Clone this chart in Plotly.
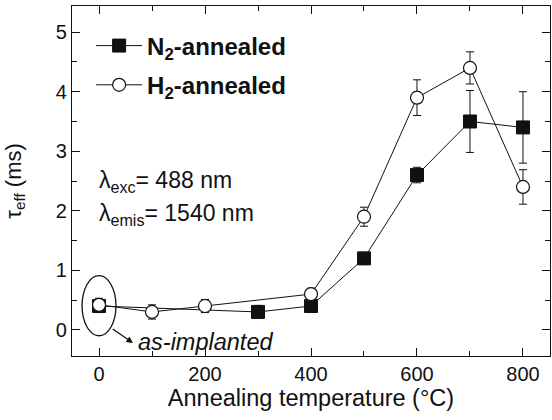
import plotly.graph_objects as go

# Data
temp_n2 = [0, 300, 400, 500, 600, 700, 800]
tau_n2 = [0.40, 0.30, 0.40, 1.20, 2.60, 3.50, 3.40]
err_n2 = [0.11, 0.11, 0.10, 0.10, 0.13, 0.52, 0.60]

temp_h2 = [0, 100, 200, 400, 500, 600, 700, 800]
tau_h2 = [0.42, 0.30, 0.40, 0.60, 1.90, 3.90, 4.40, 2.40]
err_h2 = [0.11, 0.12, 0.11, 0.10, 0.16, 0.30, 0.27, 0.29]

x_ticks = [0, 200, 400, 600, 800]
y_ticks = [0, 1, 2, 3, 4, 5]

FONT = "Liberation Sans, Arial, sans-serif"
INK = "#111111"

fig = go.Figure()

fig.add_trace(go.Scatter(
    x=temp_n2, y=tau_n2, mode="lines+markers",
    name="<b>N<sub>2</sub>-annealed</b>", legendgroup="a",
    line=dict(color=INK, width=1),
    marker=dict(symbol="square", size=13, color=INK, line=dict(color=INK, width=1)),
    error_y=dict(type="data", array=err_n2, color=INK, thickness=1, width=4),
))
fig.add_trace(go.Scatter(
    x=temp_h2, y=tau_h2, mode="lines+markers",
    name="<b>H<sub>2</sub>-annealed</b>", legendgroup="b",
    line=dict(color=INK, width=1),
    marker=dict(symbol="circle", size=13, color="white", line=dict(color=INK, width=1.2)),
    error_y=dict(type="data", array=err_h2, color=INK, thickness=1, width=4),
))

# ellipse around as-implanted point
fig.add_shape(type="circle", xref="x", yref="y", x0=-32, x1=32, y0=-0.1, y1=0.91,
              line=dict(color=INK, width=1.3))

fig.add_annotation(x=64, y=-0.22, ax=23, ay=0.03, axref="x", ayref="y", xref="x", yref="y",
                   text="", showarrow=True, arrowhead=2, arrowsize=1, arrowwidth=1.3,
                   arrowcolor=INK)
fig.add_annotation(x=70, y=-0.2, xref="x", yref="y", xanchor="left", yanchor="middle",
                   text="<i>as-implanted</i>", showarrow=False,
                   font=dict(family=FONT, size=23.5, color=INK))
fig.add_annotation(x=-4, y=2.5, xref="x", yref="y", xanchor="left", yanchor="middle",
                   text="λ<sub>exc</sub>= 488 nm", showarrow=False,
                   font=dict(family=FONT, size=23, color=INK))
fig.add_annotation(x=-4, y=1.93, xref="x", yref="y", xanchor="left", yanchor="middle",
                   text="λ<sub>emis</sub>= 1540 nm", showarrow=False,
                   font=dict(family=FONT, size=23, color=INK))

axis_common = dict(
    showline=True, linecolor=INK, linewidth=1.3, mirror="ticks",
    ticks="inside", ticklen=8, tickwidth=1.2, tickcolor=INK,
    showgrid=False, zeroline=False, automargin=False,
    tickfont=dict(family=FONT, size=20, color=INK),
)

fig.update_xaxes(
    range=[-51, 851], tickvals=x_ticks,
    minor=dict(dtick=100, tick0=0, ticks="inside", ticklen=5, tickwidth=1.2, tickcolor=INK, showgrid=False),
    title=dict(text="Annealing temperature (°C)", font=dict(family=FONT, size=23.5, color=INK), standoff=4),
    **axis_common,
)
fig.update_yaxes(
    range=[-0.44, 5.44], tickvals=y_ticks,
    minor=dict(dtick=0.5, tick0=0, ticks="inside", ticklen=5, tickwidth=1.2, tickcolor=INK, showgrid=False),
    title=dict(text="τ<sub>eff</sub> (ms)", font=dict(family=FONT, size=22, color=INK), standoff=28),
    **axis_common,
)

fig.update_layout(
    width=552, height=420,
    margin=dict(l=72, r=2, t=6, b=64),
    paper_bgcolor="white", plot_bgcolor="white",
    font=dict(family=FONT, color=INK),
    showlegend=True,
    legend=dict(x=0.04, y=0.95, xanchor="left", yanchor="top",
                bgcolor="rgba(0,0,0,0)", borderwidth=0,
                font=dict(family=FONT, size=24, color=INK),
                traceorder="grouped", tracegroupgap=5, itemwidth=46),
)

fig.write_html("out.html", config={"displayModeBar": False},
               post_script="document.body.style.margin='0';")
